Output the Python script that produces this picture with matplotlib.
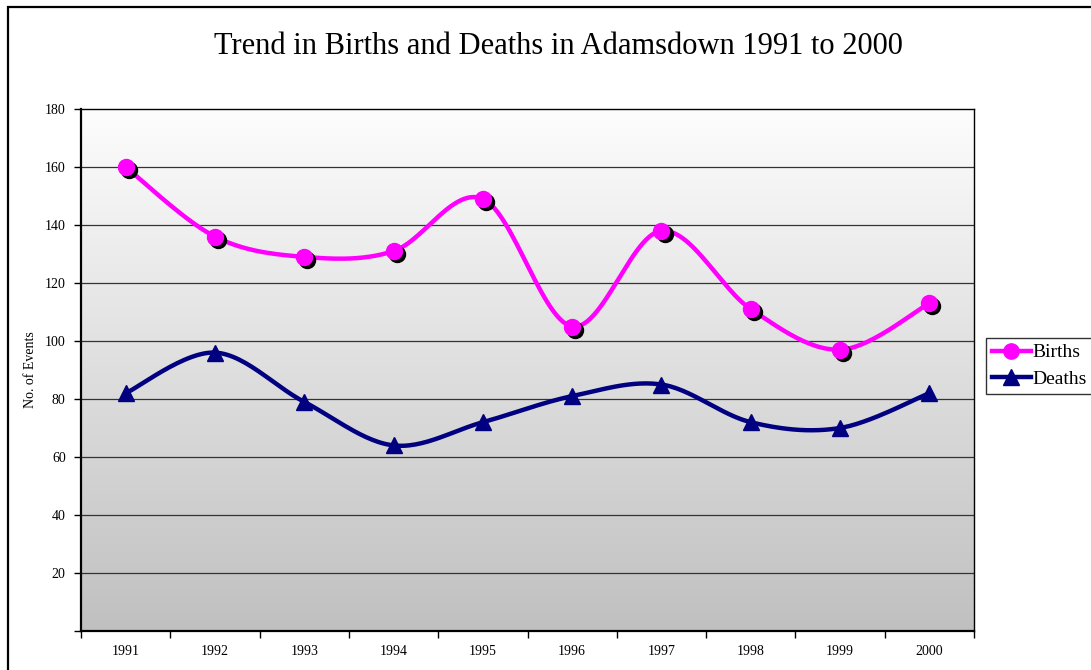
import numpy as np
import matplotlib
matplotlib.use("Agg")
import matplotlib.pyplot as plt
from matplotlib import transforms
from matplotlib.patches import Rectangle
from matplotlib.lines import Line2D
from matplotlib.colors import LinearSegmentedColormap

years = ["1991", "1992", "1993", "1994", "1995", "1996", "1997", "1998", "1999", "2000"]
births = [160, 136, 129, 131, 149, 105, 138, 111, 97, 113]
deaths = [82, 96, 79, 64, 72, 81, 85, 72, 70, 82]

plt.rcParams['font.family'] = ['Liberation Serif', 'DejaVu Serif']

W, H = 1091, 670
fig = plt.figure(figsize=(W / 100, H / 100), dpi=100)
fig.patch.set_facecolor('white')

# outer chart border (only top/left visible)
fig.patches.append(Rectangle((8 / W, -0.1), 1.2, (H - 7) / H + 0.1, transform=fig.transFigure,
                             fill=False, edgecolor='black', linewidth=1.6, zorder=0))

L, R, T, B = 81, 974, 109, 631
ax = fig.add_axes([L / W, 1 - B / H, (R - L) / W, (B - T) / H])

x = np.arange(len(years))
ax.set_xlim(-0.5, len(years) - 0.5)
ax.set_ylim(0, 180)

# gradient background
grad = np.linspace(0, 1, 256).reshape(-1, 1)
cmap = LinearSegmentedColormap.from_list('g', ['#c0c0c0', '#fdfdfd'])
ax.imshow(grad, extent=(-0.5, len(years) - 0.5, 0, 180), origin='lower', aspect='auto',
          cmap=cmap, zorder=0)

for yv in range(20, 180, 20):
    ax.axhline(yv, color='#333333', linewidth=0.9, zorder=1)


def smooth(xs, ys, n=30):
    xs = np.asarray(xs, float)
    ys = np.asarray(ys, float)
    P = np.column_stack([xs, ys])
    Pe = np.vstack([P[0], P, P[-1]])
    out = []
    for i in range(len(P) - 1):
        p0, p1, p2, p3 = Pe[i], Pe[i + 1], Pe[i + 2], Pe[i + 3]
        c1 = p1 + (p2 - p0) / 6.0
        c2 = p2 - (p3 - p1) / 6.0
        t = np.linspace(0, 1, n)[:, None]
        seg = ((1 - t) ** 3) * p1 + 3 * ((1 - t) ** 2) * t * c1 + 3 * (1 - t) * t ** 2 * c2 + t ** 3 * p2
        out.append(seg if i == 0 else seg[1:])
    S = np.vstack(out)
    return S[:, 0], S[:, 1]


bx, by = smooth(x, births)
dx, dy = smooth(x, deaths)
ax.plot(bx, by, color='#ff00ff', linewidth=3.2, zorder=3, solid_capstyle='round')
ax.plot(dx, dy, color='#000080', linewidth=3.2, zorder=3, solid_capstyle='round')

shadow = transforms.offset_copy(ax.transData, fig=fig, x=2.2, y=-2.2, units='points')
ax.plot(x, births, linestyle='none', marker='o', markersize=11.5, color='black', zorder=4,
        transform=shadow)
ax.plot(x, births, linestyle='none', marker='o', markersize=11.5, color='#ff00ff',
        markeredgecolor='#ff00ff', zorder=5)
ax.plot(x, deaths, linestyle='none', marker='^', markersize=11, color='#000080',
        markeredgecolor='#000080', zorder=5)

ax.set_xticks(np.arange(-0.5, len(years), 1))
ax.set_xticklabels([])
ax.set_xticks(x, minor=True)
ax.set_xticklabels(years, minor=True)
ax.tick_params(axis='x', which='minor', length=0, pad=10, labelsize=10)
ax.tick_params(axis='x', which='major', length=5, direction='out', width=1)
ax.set_yticks(range(0, 181, 20))
ax.set_yticklabels([''] + [str(v) for v in range(20, 181, 20)])
ax.tick_params(axis='y', length=5, direction='out', width=1, labelsize=10, pad=6)

for s in ['left', 'bottom']:
    ax.spines[s].set_linewidth(1.6)
for s in ['top', 'right']:
    ax.spines[s].set_linewidth(1.0)

ax.set_ylabel('No. of Events', fontsize=10, labelpad=6)

fig.text(558 / W, 1 - 46 / H, 'Trend in Births and Deaths in Adamsdown 1991 to 2000',
         ha='center', va='center', fontsize=22)

handles = [
    Line2D([], [], color='#ff00ff', linewidth=3.2, marker='o', markersize=11, markeredgecolor='#ff00ff'),
    Line2D([], [], color='#000080', linewidth=3.2, marker='^', markersize=11, markeredgecolor='#000080'),
]
leg = fig.legend(handles, ['Births', 'Deaths'], loc='upper left',
                 bbox_to_anchor=(986 / W, 1 - 338 / H), bbox_transform=fig.transFigure,
                 frameon=True, fancybox=False, edgecolor='black', fontsize=14,
                 handlelength=2.0, handletextpad=0.1, borderpad=0.3, labelspacing=0.45,
                 borderaxespad=0)
leg.get_frame().set_linewidth(1.0)

fig.savefig('out.png', dpi=100)
